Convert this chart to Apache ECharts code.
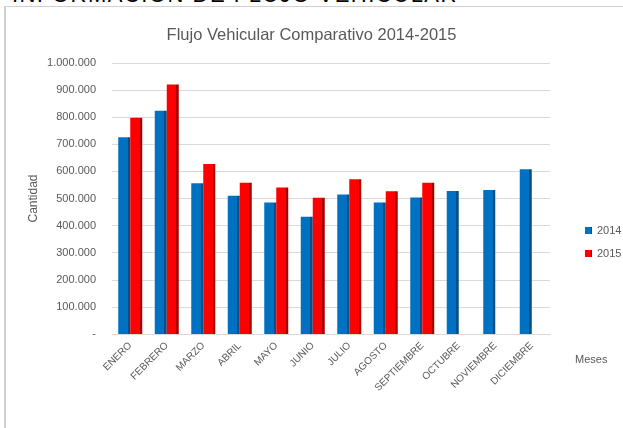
<!DOCTYPE html>
<html>
<head>
<meta charset="utf-8">
<script src="https://cdn.jsdelivr.net/npm/echarts@6/dist/echarts.min.js"></script>
<style>
  html, body { margin: 0; padding: 0; background: #fff; overflow: hidden; }
  #heading {
    position: absolute; left: 12px; top: -16px; white-space: nowrap;
    font-family: "Liberation Sans", Arial, sans-serif; font-size: 22px; line-height: 22px;
    letter-spacing: 1.5px; color: #000;
  }
  #box {
    position: absolute; left: 4px; top: 6px; width: 640px; height: 440px;
    border-left: 2px solid #d0d0d0; border-top: 1px solid #d0d0d0;
  }
  #chart { position: absolute; left: 0; top: 0; width: 623px; height: 428px; }
</style>
</head>
<body>
<div id="heading">INFORMACIÓN DE FLUJO VEHICULAR</div>
<div id="box"></div>
<div id="chart"></div>
<script>
const meses = ["ENERO", "FEBRERO", "MARZO", "ABRIL", "MAYO", "JUNIO", "JULIO",
  "AGOSTO", "SEPTIEMBRE", "OCTUBRE", "NOVIEMBRE", "DICIEMBRE"];
const flujo2014 = [726000, 824000, 556000, 510000, 485000, 433000, 515000,
  485000, 504000, 528000, 531000, 608000];
const flujo2015 = [798000, 921000, 627000, 558000, 541000, 503000, 571000,
  527000, 558000, null, null, null];

// cara frontal + lateral oscura para imitar el 3D de Excel
function cara(front, side) {
  return new echarts.graphic.LinearGradient(0, 0, 1, 0, [
    { offset: 0, color: front },
    { offset: 0.8, color: front },
    { offset: 0.8, color: side },
    { offset: 1, color: side }
  ]);
}

function miles(v) {
  if (v === 0) return "-";
  return String(v).replace(/\B(?=(\d{3})+(?!\d))/g, ".");
}

const gris = "#595959";
const chart = echarts.init(document.getElementById("chart"));
chart.setOption({
  animation: false,
  color: ["#0070C0", "#FF0000"],
  title: {
    text: "Flujo Vehicular Comparativo 2014-2015",
    left: "center",
    top: 22,
    textStyle: { color: gris, fontSize: 16.5, fontWeight: "normal", fontFamily: "Liberation Sans" }
  },
  legend: {
    orient: "vertical",
    left: 580,
    top: 220,
    itemWidth: 7,
    itemHeight: 7,
    itemGap: 12,
    icon: "rect",
    data: ["2014", "2015"],
    textStyle: { color: gris, fontSize: 11, fontFamily: "Liberation Sans" }
  },
  grid: { left: 112, right: 73, top: 63, bottom: 94 },
  xAxis: {
    type: "category",
    data: meses,
    name: "Meses",
    nameLocation: "end",
    nameGap: 25,
    nameTextStyle: { color: gris, fontSize: 11, verticalAlign: "top", padding: [20, 0, 0, 0], fontFamily: "Liberation Sans" },
    axisLine: { lineStyle: { color: "#d9d9d9" } },
    axisTick: { show: false },
    axisLabel: { rotate: 45, margin: 10, color: gris, fontSize: 10, fontFamily: "Liberation Sans" }
  },
  yAxis: {
    type: "value",
    min: 0,
    max: 1000000,
    interval: 100000,
    name: "Cantidad",
    nameLocation: "middle",
    nameRotate: 90,
    nameGap: 72,
    nameMoveOverlap: false,
    nameTextStyle: { color: gris, fontSize: 12, fontFamily: "Liberation Sans" },
    axisLine: { show: false },
    axisTick: { show: false },
    splitLine: { lineStyle: { color: "#d9d9d9" } },
    axisLabel: { margin: 16, color: gris, fontSize: 11, padding: [6, 0, 0, 0], fontFamily: "Liberation Sans", formatter: miles }
  },
  series: [
    {
      name: "2014",
      type: "bar",
      barWidth: 12,
      barGap: "0%",
      itemStyle: { color: cara("#0070C0", "#004f87") },
      data: flujo2014
    },
    {
      name: "2015",
      type: "bar",
      barWidth: 12,
      itemStyle: { color: cara("#FF0000", "#a80000") },
      data: flujo2015
    }
  ]
});
</script>
</body>
</html>
